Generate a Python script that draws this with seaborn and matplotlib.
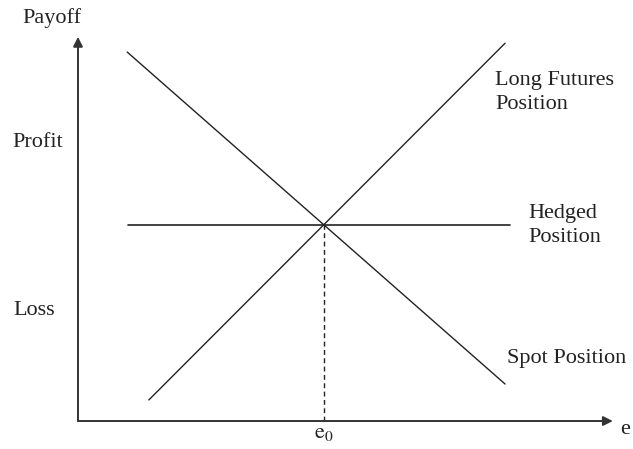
import matplotlib
matplotlib.use("Agg")
import matplotlib.pyplot as plt
import seaborn as sns
import pandas as pd

# exchange rate e (conceptual units) and payoff values
e0 = 5.0
hedge_level = 4.0
spot_e = [1.0, 8.68]
spot_payoff = [7.53, 0.755]
long_e = [1.44, 8.68]
long_payoff = [0.43, 7.71]
hedged_e = [1.02, 8.78]
hedged_payoff = [hedge_level, hedge_level]

series_labels = ["Spot Position", ["Long Futures", "Position"], ["Hedged", "Position"]]
axis_labels = {"y": "Payoff", "x": "e", "profit": "Profit", "loss": "Loss"}

sns.set_theme(style="white")
plt.rcParams["font.family"] = ["Liberation Serif", "DejaVu Serif"]
plt.rcParams["mathtext.fontset"] = "stix"

fig = plt.figure(figsize=(6.33, 4.49), dpi=100)
ax = fig.add_axes([0, 0, 1, 1])
ax.set_xlim(-1.585, 11.28)
ax.set_ylim(-0.571, 8.592)
ax.axis("off")

lc = "#222222"
lw = 1.0
sns.lineplot(data=pd.DataFrame({"e": spot_e, "p": spot_payoff}), x="e", y="p",
             ax=ax, color=lc, lw=lw)
sns.lineplot(data=pd.DataFrame({"e": long_e, "p": long_payoff}), x="e", y="p",
             ax=ax, color=lc, lw=lw)
sns.lineplot(data=pd.DataFrame({"e": hedged_e, "p": hedged_payoff}), x="e", y="p",
             ax=ax, color=lc, lw=1.2)
ax.plot([e0, e0], [0, hedge_level], color=lc, lw=1.0, dashes=(3.5, 2.5))

# axes with arrows
arrow = dict(arrowstyle="-|>", color="#333333", lw=1.4, mutation_scale=14,
             shrinkA=0, shrinkB=0)
ax.annotate("", xy=(10.87, 0), xytext=(0, 0), arrowprops=arrow)
ax.annotate("", xy=(0, 7.84), xytext=(0, 0), arrowprops=arrow)

fs = 16
tc = "#222222"
kw = dict(fontsize=fs, color=tc, va="baseline")
ax.text(-0.53, 8.12, axis_labels["y"], ha="center", **kw)
ax.text(-0.81, 5.59, axis_labels["profit"], ha="center", **kw)
ax.text(-0.89, 2.16, axis_labels["loss"], ha="center", **kw)
ax.text(11.02, -0.27, axis_labels["x"], ha="left", **kw)
ax.text(e0, -0.35, r"$\mathrm{e}_0$", ha="center", **kw)
ax.text(8.48, 6.86, series_labels[1][0], ha="left", **kw)
ax.text(8.48, 6.37, series_labels[1][1], ha="left", **kw)
ax.text(9.15, 4.14, series_labels[2][0], ha="left", **kw)
ax.text(9.15, 3.65, series_labels[2][1], ha="left", **kw)
ax.text(8.72, 1.18, series_labels[0], ha="left", **kw)

fig.savefig("out.png", dpi=100)
